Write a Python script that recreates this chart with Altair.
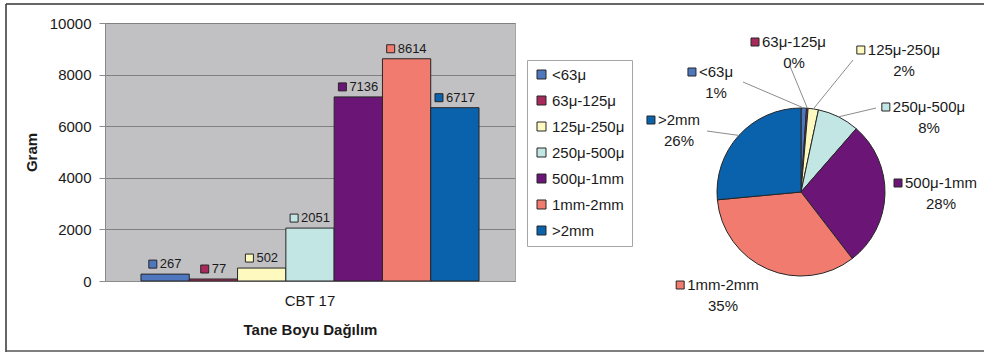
import altair as alt
import pandas as pd

# ---- data ---------------------------------------------------------------
sample = "CBT 17"
categories = ["<63μ", "63μ-125μ", "125μ-250μ", "250μ-500μ", "500μ-1mm", "1mm-2mm", ">2mm"]
grams = [267, 77, 502, 2051, 7136, 8614, 6717]
pct_labels = ["1%", "0%", "2%", "8%", "28%", "35%", "26%"]
colors = ["#4f77be", "#a82a5c", "#fdf9bf", "#c2e6e4", "#6b1677", "#f07b6e", "#0a62ad"]

# ---- layout (pixels, relative to the bar plot's top-left corner) --------
PLOT_W, PLOT_H = 410, 258
PAD_OUTER = 0.745
BAR_W = PLOT_W / (len(categories) + 2 * PAD_OUTER)
PIE_CX, PIE_CY, PIE_R = 696, 169, 84
FONT = "Liberation Sans"
INK = "#1a1a1a"
EDGE = "#262626"

# pie labels: centre of the name line, offset from the pie centre
label_dx = [-85, -7, 103, 128, 140, -78, -122]
label_dy = [-120, -150, -142, -85, -9, 93, -72]
# outer end of the leader line for each label (None = no leader)
leader_dx = [-58, -11, 52, 75, None, None, -94]
leader_dy = [-110, -126, -132, -84, None, None, -61]

LABEL_SIZE = 15
CHAR_W = {"<": 0.584, ">": 0.584, "μ": 0.576, "-": 0.333, "m": 0.833}


def text_width(s, size):
    return sum(CHAR_W.get(c, 0.556) for c in s) * size


rows = []
for i, cat in enumerate(categories):
    nx = PIE_CX + label_dx[i]
    ny = PIE_CY + label_dy[i]
    left = nx - text_width(cat, LABEL_SIZE) / 2
    has = leader_dx[i] is not None
    rows.append({
        "size": cat,
        "grams": grams[i],
        "idx": i,
        "pct": pct_labels[i],
        "name_x": nx,
        "name_left": left,
        "name_y": ny,
        "pct_y": ny + 21,
        "sq_x": left - 7,
        "has_leader": has,
        "lx": PIE_CX + leader_dx[i] if has else None,
        "ly": PIE_CY + leader_dy[i] if has else None,
    })
df = pd.DataFrame(rows)

color = alt.Color(
    "size:N",
    sort=categories,
    scale=alt.Scale(domain=categories, range=colors),
    legend=alt.Legend(
        orient="none", legendX=422, legendY=37, title=None,
        symbolType="square", symbolSize=81, symbolStrokeColor=EDGE,
        symbolStrokeWidth=1, symbolOpacity=1, labelFontSize=15,
        labelOffset=3, labelColor=INK, labelFont=FONT, rowPadding=10,
        padding=7, strokeColor="#a6a6a6", fillColor="white",
    ),
)

x_enc = alt.X(
    "size:N",
    sort=categories,
    scale=alt.Scale(paddingInner=0, paddingOuter=PAD_OUTER),
    title="Tane Boyu Dağılım",
    axis=alt.Axis(
        labelExpr=f"datum.value == '{categories[3]}' ? '{sample}' : ''",
        labelAngle=0, ticks=False, labelFontSize=15, labelPadding=12,
        labelColor=INK, domainColor="#8a8a8a", titleFontSize=15,
        titleFontWeight="bold", titleColor=INK, titlePadding=14,
    ),
)
y_enc = alt.Y(
    "grams:Q",
    scale=alt.Scale(domain=[0, 10000], nice=False),
    title="Gram",
    axis=alt.Axis(
        values=list(range(0, 10001, 1000)), format="d", labelFontSize=15,
        labelColor=INK, tickSize=6, tickColor="#8a8a8a", labelPadding=8,
        domainColor="#8a8a8a", gridColor="#808080", titleFontSize=15,
        titleFontWeight="bold", titleColor=INK, titlePadding=10,
    ),
)

bars = alt.Chart(df).mark_bar(stroke=EDGE, strokeWidth=1).encode(
    x=x_enc, y=y_enc, color=color
)

# value labels above the bars: a small colour key followed by the number,
# the pair centred over its bar
bar_lab = alt.Chart(df).transform_calculate(
    n="length(toString(datum.grams))",
    tx=f"{BAR_W / 2} - (datum.n * 7.2 + 11) / 2 + 11",
    sx="datum.tx - 7",
)
bar_keys = bar_lab.mark_point(
    shape="square", filled=True, size=64, stroke=EDGE, strokeWidth=1,
    opacity=1, yOffset=-10,
).encode(
    x=alt.X("size:N", sort=categories),
    y="grams:Q",
    xOffset=alt.XOffset("sx:Q", scale=None),
    color=color,
)
bar_text = bar_lab.mark_text(
    align="left", baseline="middle", dy=-10, fontSize=13, color=INK, font=FONT
).encode(
    x=alt.X("size:N", sort=categories),
    y="grams:Q",
    xOffset=alt.XOffset("tx:Q", scale=None),
    text="grams:Q",
)

# pie of the same masses, starting at 12 o'clock and running clockwise
pie = alt.Chart(df).mark_arc(outerRadius=PIE_R, stroke=EDGE, strokeWidth=1).encode(
    theta=alt.Theta("grams:Q", stack=True),
    order=alt.Order("idx:Q", sort="ascending"),
    color=color,
    x=alt.value(PIE_CX),
    y=alt.value(PIE_CY),
)

leaders = alt.Chart(df).transform_joinaggregate(
    total="sum(grams)"
).transform_window(
    cum="sum(grams)", sort=[alt.SortField("idx")]
).transform_filter(
    "datum.has_leader"
).transform_calculate(
    mid="2 * PI * (datum.cum - datum.grams / 2) / datum.total",
    ex=f"{PIE_CX} + {PIE_R} * sin(datum.mid)",
    ey=f"{PIE_CY} - {PIE_R} * cos(datum.mid)",
).mark_rule(color="#8c8c8c", strokeWidth=1).encode(
    x=alt.X("lx:Q", scale=None),
    y=alt.Y("ly:Q", scale=None),
    x2="ex:Q",
    y2="ey:Q",
)

pie_keys = alt.Chart(df).mark_point(
    shape="square", filled=True, size=64, stroke=EDGE, strokeWidth=1, opacity=1
).encode(
    x=alt.X("sq_x:Q", scale=None),
    y=alt.Y("name_y:Q", scale=None),
    color=color,
)
pie_names = alt.Chart(df).mark_text(
    align="left", baseline="middle", fontSize=LABEL_SIZE, color=INK, font=FONT
).encode(
    x=alt.X("name_left:Q", scale=None),
    y=alt.Y("name_y:Q", scale=None),
    text="size:N",
)
pie_pcts = alt.Chart(df).mark_text(
    align="center", baseline="middle", fontSize=LABEL_SIZE, color=INK, font=FONT
).encode(
    x=alt.X("name_x:Q", scale=None),
    y=alt.Y("pct_y:Q", scale=None),
    text="pct:N",
)

# outer frame of the figure
frame_src = alt.Chart(pd.DataFrame({"k": [0]}))
frame = alt.layer(
    frame_src.mark_rule(color="#333333", strokeWidth=1.5).encode(
        x=alt.value(-99), x2=alt.value(879), y=alt.value(-19)),
    frame_src.mark_rule(color="#333333", strokeWidth=1.5).encode(
        x=alt.value(-99), y=alt.value(-19), y2=alt.value(329)),
    frame_src.mark_rule(color="#555555", strokeWidth=1.5).encode(
        x=alt.value(-99), x2=alt.value(879), y=alt.value(328)),
)

chart = alt.layer(
    bars, bar_keys, bar_text, pie, leaders, pie_keys, pie_names, pie_pcts, frame
).properties(
    width=PLOT_W,
    height=PLOT_H,
    autosize=alt.AutoSizeParams(type="none"),
    padding={"left": 105, "top": 23, "right": 469, "bottom": 73},
    background="white",
).configure(
    font=FONT,
).configure_view(
    fill="#c1c1c4", stroke="#a5a5a5", strokeWidth=1,
)

chart.save("out.html", embed_options={"renderer": "svg", "actions": False})
